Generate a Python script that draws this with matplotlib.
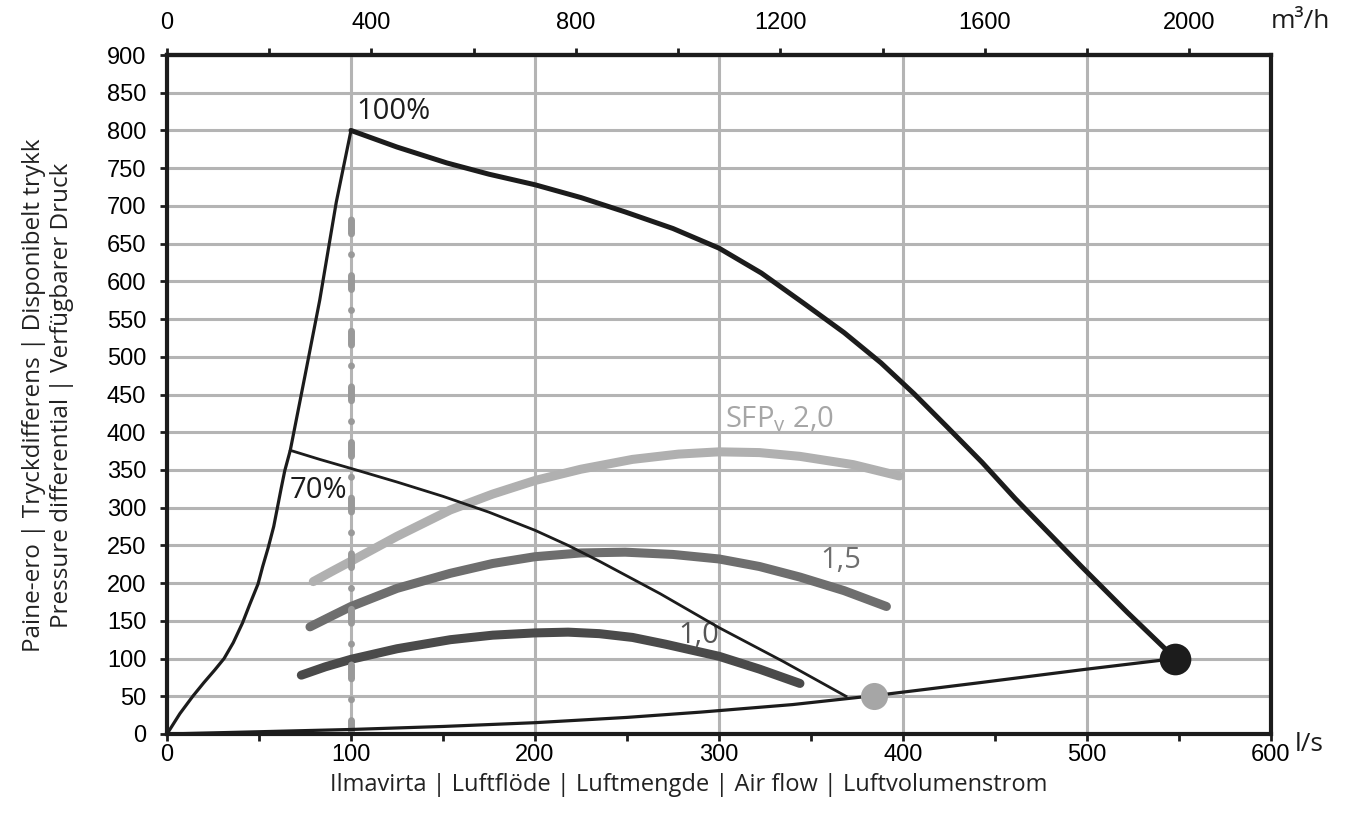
"""
Fan performance chart: available pressure vs air flow with SFPv curves.
"""

import matplotlib
matplotlib.use("Agg")
import matplotlib.pyplot as plt
from matplotlib.ticker import MultipleLocator, FixedLocator, NullFormatter

# --- data (l/s, Pa) ---
min_x = [0, 7, 14, 20, 26, 31, 36, 41, 45, 49.5, 52, 55, 58, 60, 62, 64, 67,
         75, 83, 92, 100]
min_y = [0, 27, 50, 68, 85, 100, 121, 147, 172, 199, 222, 247, 275, 300, 325,
         349, 376, 475, 575, 705, 800]

full_x = [100, 125, 152, 175, 200, 225, 249, 275, 300, 323, 346, 368, 388, 406,
          424, 443, 461, 479, 497, 522, 548]
full_y = [800, 778, 757, 742, 728, 711, 692, 670, 644, 611, 571, 532, 492, 451,
          407, 360, 312, 267, 222, 161, 100]

p70_x = [67, 83, 100, 125, 150, 175, 200, 218, 235, 268, 300, 335, 369]
p70_y = [376, 364, 352, 334, 315, 294, 270, 250, 229, 186, 141, 96, 50]

sys_x = [0, 50, 100, 150, 200, 250, 290, 340, 385, 440, 500, 548]
sys_y = [0, 3, 6, 10, 15, 22, 29, 39, 51, 67.5, 86, 100]

sfp20_x = [79.5, 90, 100, 125, 154, 177, 200, 225, 253, 278, 300, 322, 344, 373, 398]
sfp20_y = [202, 216, 229, 262, 297, 318, 336, 351, 364, 371, 374, 373, 368, 357, 342]

sfp15_x = [77.7, 90, 100, 125, 154, 177, 200, 225, 249, 275, 300, 322, 344, 368, 391]
sfp15_y = [142, 157, 169, 193, 213, 226, 235, 240, 241, 238, 232, 222, 208, 190, 169]

sfp10_x = [73, 86, 100, 125, 154, 177, 200, 218, 235, 253, 271, 300, 322, 344]
sfp10_y = [78, 89, 99, 113, 125, 131, 134, 135, 133, 128, 119, 103, 86, 67]

limit_x = [100, 100]
limit_y = [0, 707]

point_full = (548, 100)
point_70 = (384, 51)

xticks_ls = [0, 100, 200, 300, 400, 500, 600]
yticks_pa = list(range(0, 901, 50))
top_major = [0, 400, 800, 1200, 1600, 2000]
top_minor = [200, 600, 1000, 1400, 1800]

TICK_FONT = ["Liberation Sans Narrow", "Liberation Sans", "DejaVu Sans"]
TEXT_FONT = ["Open Sans", "DejaVu Sans"]
BLACK = "#1c1c1c"
GRID = "#b4b4b4"

fig = plt.figure(figsize=(13.51, 8.32), dpi=100)
ax = fig.add_axes([167 / 1351, 1 - 734 / 832, 1104 / 1351, 679 / 832])

ax.set_xlim(0, 600)
ax.set_ylim(0, 900)

# grid
ax.xaxis.set_major_locator(FixedLocator(xticks_ls))
ax.xaxis.set_minor_locator(MultipleLocator(50))
ax.yaxis.set_major_locator(FixedLocator(yticks_pa))
ax.grid(True, which="major", color=GRID, lw=2.2, zorder=0)
ax.set_axisbelow(True)

for s in ax.spines.values():
    s.set_linewidth(3)
    s.set_color(BLACK)
    s.set_zorder(10)

ax.tick_params(axis="both", which="both", direction="out", length=5,
               width=2, color=BLACK, labelsize=17)
ax.tick_params(axis="x", pad=2)
ax.tick_params(axis="y", pad=10)
for lab in ax.get_xticklabels() + ax.get_yticklabels():
    lab.set_family(TICK_FONT)

# top axis in m3/h
top = ax.secondary_xaxis("top", functions=(lambda v: v * 3.6, lambda v: v / 3.6))
top.xaxis.set_major_locator(FixedLocator(top_major))
top.xaxis.set_minor_locator(FixedLocator(top_minor))
top.xaxis.set_minor_formatter(NullFormatter())
top.tick_params(axis="x", which="both", direction="out", length=5, width=2,
                color=BLACK, labelsize=17, pad=10)
top.spines["top"].set_linewidth(3)
top.spines["top"].set_color(BLACK)
for lab in top.get_xticklabels():
    lab.set_family(TICK_FONT)

# SFP curves
ax.plot(sfp20_x, sfp20_y, color="#b0b0b0", lw=6.5, solid_capstyle="round",
        solid_joinstyle="round", zorder=3)
ax.plot(sfp15_x, sfp15_y, color="#6e6e6e", lw=6.5, solid_capstyle="round",
        solid_joinstyle="round", zorder=3)
ax.plot(sfp10_x, sfp10_y, color="#4a4a4a", lw=6.5, solid_capstyle="round",
        solid_joinstyle="round", zorder=3)

# dash-dot limit line at 100 l/s
lim, = ax.plot(limit_x, limit_y, color="#999999", lw=5, zorder=4,
               dash_capstyle="round")
lim.set_dashes([2.0, 3.0, 0.01, 3.0])

# fan curves
ax.plot(min_x, min_y, color=BLACK, lw=2.3, zorder=5, solid_joinstyle="round")
ax.plot(full_x, full_y, color=BLACK, lw=3.6, zorder=5, solid_capstyle="round",
        solid_joinstyle="round")
ax.plot(p70_x, p70_y, color=BLACK, lw=2.0, zorder=5, solid_joinstyle="round")
ax.plot(sys_x, sys_y, color=BLACK, lw=2.3, zorder=5, solid_joinstyle="round")

ax.scatter(*point_full, s=520, color=BLACK, zorder=6, linewidths=0)
ax.scatter(*point_70, s=380, color="#a6a6a6", zorder=6, linewidths=0)

# annotations
ax.text(103, 806, "100%", fontsize=21, family=TEXT_FONT, color=BLACK, va="bottom")
ax.text(66.5, 342, "70%", fontsize=21, family=TEXT_FONT, color=BLACK, va="top")
ax.text(303, 407, r"SFP$_\mathregular{v}$ 2,0", fontsize=21, family=TEXT_FONT,
        color="#a6a6a6", va="baseline")
ax.text(355, 220, "1,5", fontsize=21, family=TEXT_FONT, color="#6e6e6e", va="baseline")
ax.text(278, 120.5, "1,0", fontsize=21, family=TEXT_FONT, color="#555555", va="baseline")

# unit labels
ax.text(1.0215, -0.016, "l/s", transform=ax.transAxes, fontsize=19,
        family=TEXT_FONT, ha="left", va="center", color=BLACK)
ax.text(1.0, 1.049, "m³/h", transform=ax.transAxes, fontsize=19,
        family=TEXT_FONT, ha="left", va="center", color=BLACK)

fig.text(689 / 1351, 1 - 785 / 832,
         "Ilmavirta | Luftflöde | Luftmengde | Air flow | Luftvolumenstrom",
         fontsize=17, family=TEXT_FONT, ha="center", va="center", color="#222222")
fig.text(48 / 1351, 1 - 395 / 832,
         "Paine-ero | Tryckdifferens | Disponibelt trykk\n"
         "Pressure differential | Verfügbarer Druck",
         fontsize=17.5, family=TEXT_FONT, ha="center", va="center", rotation=90,
         multialignment="center", color="#222222", linespacing=1.25)

fig.savefig("out.png", dpi=100)
plt.close(fig)
